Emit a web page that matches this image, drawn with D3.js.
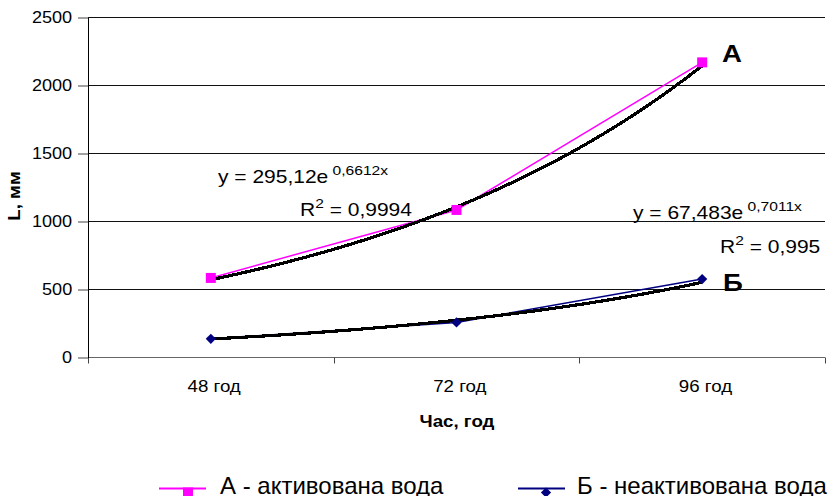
<!DOCTYPE html>
<html>
<head>
<meta charset="utf-8">
<script src="https://cdn.jsdelivr.net/npm/d3@7"></script>
<style>
  body { margin: 0; background: #fff; }
  svg { display: block; font-family: "Liberation Sans", Arial, sans-serif; }
</style>
</head>
<body>
<svg width="829" height="496"></svg>
<script>
// ***********************************
// Data

var categories = ["48 год", "72 год", "96 год"];
var seriesA = [585, 1085, 2170];
var seriesB = [137, 258, 577];
var seriesNames = ["А - активована вода", "Б - неактивована вода"];
var seriesTags = ["А", "Б"];
var seriesColors = ["#ff00ff", "#000080"];
// exponential trendlines as printed on the chart: y = a * e^(b*x), x = 1..3
var trendCoef = [295.12, 67.483];
var trendRate = [0.6612, 0.7011];
var trendEq = [["y = 295,12e", "0,6612x"], ["y = 67,483e", "0,7011x"]];
var trendR2 = ["0,9994", "0,995"];
var yTicks = [0, 500, 1000, 1500, 2000, 2500];

// ***********************************
// Frame and scales

var svg = d3.select("svg");
var plotLeft = 88, plotRight = 825, plotTop = 17.5, plotBottom = 357.5;

var x = d3.scaleBand().domain(categories).range([plotLeft, plotRight]);
var y = d3.scaleLinear().domain([0, 2500]).range([plotBottom, plotTop]);
var bw = x.bandwidth();
function cx(i) { return x(categories[i]) + bw / 2; }

// horizontal gridlines
svg.append("g")
  .selectAll("line")
  .data(yTicks.filter(function(d) { return d > 0; }))
  .enter().append("line")
  .attr("x1", plotLeft).attr("x2", plotRight)
  .attr("y1", function(d) { return y(d); })
  .attr("y2", function(d) { return y(d); })
  .attr("stroke", "#111")
  .attr("shape-rendering", "crispEdges");

// x axis line and the ticks between categories
svg.append("line")
  .attr("x1", plotLeft).attr("x2", plotRight)
  .attr("y1", plotBottom).attr("y2", plotBottom)
  .attr("stroke", "#666")
  .attr("shape-rendering", "crispEdges");

var bounds = [plotLeft].concat(categories.map(function(c) { return x(c) + bw; }));
svg.append("g")
  .selectAll("line")
  .data(bounds)
  .enter().append("line")
  .attr("x1", function(d) { return Math.round(d) + 0.5; })
  .attr("x2", function(d) { return Math.round(d) + 0.5; })
  .attr("y1", plotBottom).attr("y2", plotBottom + 6)
  .attr("stroke", "#444");

// category labels
var gx = svg.append("g")
  .attr("transform", "translate(0," + plotBottom + ")")
  .call(d3.axisBottom(x).tickSize(0));
gx.select(".domain").remove();
gx.selectAll("text")
  .attr("y", 34.5).attr("dy", null)
  .attr("x", 3)
  .attr("fill", "#000")
  .style("font-size", "17px")
  .style("font-family", "Liberation Sans, Arial, sans-serif")
  .attr("transform", "scale(1.1,1)");

// y axis
var gy = svg.append("g")
  .attr("transform", "translate(" + plotLeft + ",0)")
  .call(d3.axisLeft(y).tickValues(yTicks).tickFormat(d3.format("d"))
    .tickSize(10).tickPadding(4).tickSizeOuter(0));
gy.select(".domain").attr("stroke", "#000");
gy.selectAll(".tick line").attr("stroke", "#444");
gy.selectAll("text")
  .attr("fill", "#000")
  .style("font-size", "16px")
  .style("font-family", "Liberation Sans, Arial, sans-serif")
  .attr("transform", "scale(1.13,1)");

// axis titles
svg.append("text")
  .attr("transform", "translate(20,196) rotate(-90) scale(1.1,1)")
  .attr("text-anchor", "middle")
  .style("font-size", "17px").style("font-weight", "bold")
  .text("L, мм");

svg.append("text")
  .attr("transform", "translate(457,427) scale(1.1,1)")
  .attr("text-anchor", "middle")
  .style("font-size", "17px").style("font-weight", "bold")
  .text("Час, год");

// ***********************************
// Series, trendlines and markers

var allSeries = [seriesA, seriesB];

var line = d3.line()
  .x(function(d, i) { return cx(i); })
  .y(function(d) { return y(d); });

allSeries.forEach(function(s, k) {
  svg.append("path")
    .datum(s)
    .attr("fill", "none")
    .attr("stroke", seriesColors[k])
    .attr("stroke-width", 1.5)
    .attr("d", line);
});

// black trendlines, evaluated from the printed equations
var steps = d3.range(0, 2.0001, 0.025);
allSeries.forEach(function(s, k) {
  var pts = steps.map(function(t) {
    return [cx(0) + t * bw, y(trendCoef[k] * Math.exp(trendRate[k] * (t + 1)))];
  });
  svg.append("path")
    .datum(pts)
    .attr("fill", "none")
    .attr("stroke", "#000")
    .attr("stroke-width", 3.2)
    .attr("stroke-linejoin", "round")
    .attr("shape-rendering", "crispEdges")
    .attr("d", d3.line());
});

var squareSym = d3.symbol().type(d3.symbolSquare).size(100);
var diamondSym = d3.symbol().type(d3.symbolSquare).size(52);

svg.append("g").selectAll("path")
  .data(seriesA).enter().append("path")
  .attr("d", squareSym)
  .attr("fill", seriesColors[0])
  .attr("transform", function(d, i) { return "translate(" + cx(i) + "," + y(d) + ")"; });

svg.append("g").selectAll("path")
  .data(seriesB).enter().append("path")
  .attr("d", diamondSym)
  .attr("fill", seriesColors[1])
  .attr("transform", function(d, i) { return "translate(" + cx(i) + "," + y(d) + ") rotate(45)"; });

// ***********************************
// Annotations

var eqPos = [[218, 183], [633, 219]];
var r2Pos = [[300, 216], [720, 253]];

trendEq.forEach(function(eq, k) {
  var t = svg.append("text")
    .attr("transform", "translate(" + eqPos[k][0] + "," + eqPos[k][1] + ") scale(1.2,1)")
    .style("font-size", "17.5px");
  t.append("tspan").text(eq[0]);
  t.append("tspan").attr("dy", -8).style("font-size", "13px").text(" " + eq[1]);

  var r = svg.append("text")
    .attr("transform", "translate(" + r2Pos[k][0] + "," + r2Pos[k][1] + ") scale(1.2,1)")
    .style("font-size", "17.5px");
  r.append("tspan").text("R");
  r.append("tspan").attr("dy", -8).style("font-size", "13px").text("2");
  r.append("tspan").attr("dy", 8).text(" = " + trendR2[k]);
});

var tagPos = [[722, 62], [723, 291]];
seriesTags.forEach(function(tag, k) {
  svg.append("text")
    .attr("transform", "translate(" + tagPos[k][0] + "," + tagPos[k][1] + ") scale(1.15,1)")
    .style("font-size", "24px").style("font-weight", "bold")
    .text(tag);
});

// ***********************************
// Legend

var legendX = [159, 518];
var legendY = 488.5;
seriesNames.forEach(function(name, k) {
  var g = svg.append("g").attr("transform", "translate(" + legendX[k] + "," + legendY + ")");
  g.append("line")
    .attr("x1", 0).attr("x2", 47)
    .attr("stroke", seriesColors[k])
    .attr("stroke-width", 2);
  g.append("path")
    .attr("d", k === 0 ? squareSym : diamondSym)
    .attr("fill", seriesColors[k])
    .attr("transform", "translate(" + (k === 0 ? 29 : 28) + ",4)" + (k === 0 ? "" : " rotate(45)"));
  g.append("text")
    .attr("x", k === 0 ? 61 : 59)
    .attr("y", 5.5)
    .style("font-size", "24px")
    .text(name);
});
</script>
</body>
</html>
